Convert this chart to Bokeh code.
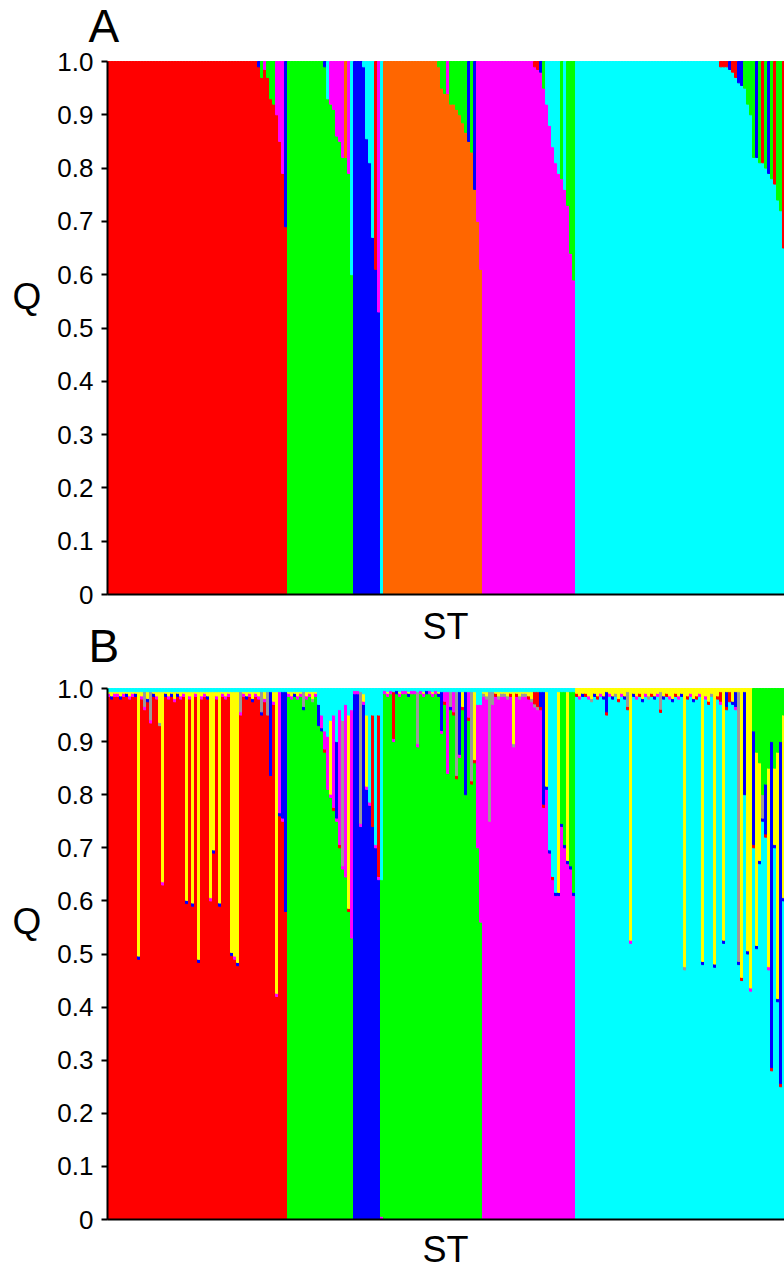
from bokeh.plotting import figure
from bokeh.models import Range1d, FixedTicker, ColumnDataSource, LinearAxis, Label
from bokeh.embed import file_html
from bokeh.resources import INLINE

# ---------------- data ----------------
COLORS = {"r": "#FF0000", "g": "#00FF00", "b": "#0000FF", "o": "#FF6600",
          "m": "#FF00FF", "c": "#00FFFF", "y": "#FFFF00", "a": "#9A9A9A"}

GROUP_SIZES = [60, 22, 10, 33, 31, 70]
Y_TICKS = [0, 0.1, 0.2, 0.3, 0.4, 0.5, 0.6, 0.7, 0.8, 0.9, 1.0]
Y_TICK_LABELS = ["0", "0.1", "0.2", "0.3", "0.4", "0.5", "0.6", "0.7", "0.8", "0.9", "1.0"]
X_LABEL = "ST"
Y_LABEL = "Q"
PANEL_LABELS = ["A", "B"]

# ---- Panel A : main-cluster membership per sample, remainder to a second cluster
A_MAIN = "rgbomc"
A_RED_Q = [1.0] * 50 + [0.99, 0.97, 0.985, 0.97, 0.93, 0.92, 0.90, 0.85, 0.79, 0.69]
A_RED_SEC = "g" * 50 + "bgmgggmmmb"
A_GREEN_Q = [1.0] * 12 + [0.99, 0.93, 0.92, 0.91, 0.86, 0.85, 0.82, 0.82, 0.79, 0.60]
A_GREEN_SEC = "m" * 12 + "bcmmmmmomc"
A_BLUE_Q = [1.0, 1.0, 1.0, 0.99, 0.855, 0.81, 0.67, 0.61, 0.53, 0.0]
A_BLUE_SEC = "mmmccccrmc"
A_ORANGE_Q = [1.0] * 18 + [0.99, 0.95, 0.94, 0.94, 0.92, 0.92, 0.91, 0.90, 0.885, 0.867,
                           0.85, 0.83, 0.76, 0.70, 0.61]
A_ORANGE_SEC = "g" * 18 + "gggmggggggbgbmm"
A_MAGENTA_Q = [1.0] * 17 + [0.99, 0.985, 0.98, 0.95, 0.92, 0.88, 0.84, 0.81, 0.79, 0.78,
                            0.76, 0.73, 0.64, 0.59]
A_MAGENTA_SEC = "c" * 17 + "rrbgcccccgcggg"
A_CYAN_Q = [1.0] * 48 + [0.99, 0.99, 0.99, 0.985, 0.98, 0.97, 0.96, 0.955, 0.95, 0.92,
                         0.90, 0.82, 0.82, 0.81, 0.81, 0.80, 0.79, 0.78, 0.77, 0.74,
                         0.72, 0.65]
A_CYAN_SEC = "g" * 48 + "rrrbrrbbggggbgrgbgrggr"

# ---- Panel B : main, thin tip layer, second cluster, thin top layer
B_MAIN = "rgbgmc"
B_TIP_Q = 0.006
B_TOP_Q = 0.006

B_RED_Q = [0.985, 0.98, 0.985, 0.985, 0.98, 0.985, 0.985, 0.98, 0.985, 0.985,
           0.49, 0.98, 0.96, 0.975, 0.935, 0.985, 0.98, 0.93, 0.63, 0.985,
           0.98, 0.985, 0.975, 0.985, 0.98, 0.985, 0.595, 0.98, 0.59, 0.985,
           0.484, 0.98, 0.985, 0.98, 0.60, 0.69, 0.98, 0.59, 0.985, 0.98,
           0.985, 0.497, 0.49, 0.478, 0.95, 0.985, 0.98, 0.985, 0.975, 0.985,
           0.98, 0.95, 0.975, 0.95, 0.836, 0.97, 0.42, 0.76, 0.75, 0.58]
B_RED_SEC = "yyyyyyyyyy" "yyayayyyyy" "yyyyyyyyyy" "yyyyyyyyyy" "yyyyayyyyy" "yayabyymbb"
B_RED_TIP = "mbmmbmbmmb" "bmmbmbmamb" "mbmbmmbmbm" "bmmbmbmbmm" "mbmbmmbmbm" "mbmabmmbmb"
B_RED_TOPQ = [B_TOP_Q] * 60
B_RED_TOPC = "c" * 60

B_GREEN_Q = [0.985, 0.98, 0.985, 0.98, 0.985, 0.96, 0.98, 0.985, 0.975, 0.985,
             0.93, 0.92, 0.88, 0.81, 0.795, 0.77, 0.75, 0.70, 0.66, 0.645, 0.58, 0.53]
B_GREEN_SEC = "yyyyyayyyybmmmymbmamym"
B_GREEN_TIP = "mmbmmbmmam" "bbrmmrmrmmrm"
B_GREEN_TOPQ = [B_TOP_Q] * 10 + [0.03, 0.05, 0.08, 0.09, 0.06, 0.05, 0.10, 0.04, 0.06, 0.03, 0.05, 0.04]
B_GREEN_TOPC = "c" * 22

B_BLUE_Q = [0.99, 0.99, 0.74, 0.97, 0.81, 0.78, 0.74, 0.70, 0.64, 0.0]
B_BLUE_SEC = "mmayycrcrg"
B_BLUE_TIP = "mmmmmmrmmm"
B_BLUE_TOPQ = [0.006, 0.006, 0.006, 0.01, 0.05, 0.10, 0.05, 0.10, 0.05, 0.36]
B_BLUE_TOPC = "c" * 10

B_GREEN2_Q = [0.99, 0.985, 0.99, 0.90, 0.99, 0.985, 0.99, 0.99, 0.985, 0.99,
              0.99, 0.89, 0.99, 0.985, 0.99, 0.99, 0.985, 0.99, 0.985, 0.915,
              0.97, 0.84, 0.96, 0.95, 0.83, 0.87, 0.96, 0.80, 0.94, 0.82,
              0.86, 0.70, 0.56]
B_GREEN2_SEC = "yyyryyyyyy" "yayyyyyyyb" "mmamabybma" "ymm"
B_GREEN2_TIP = "mmmmbmmmbm" "mmmmbmmmbm" "rmbrrmrbrr" "rmm"
B_GREEN2_TOPQ = [B_TOP_Q] * 31 + [0.03, 0.03]
B_GREEN2_TOPC = "c" * 33

B_MAGENTA_Q = [0.985, 0.98, 0.75, 0.97, 0.985, 0.98, 0.985, 0.985, 0.98, 0.985,
               0.89, 0.985, 0.98, 0.985, 0.985, 0.98, 0.975, 0.965, 0.96, 0.96,
               0.776, 0.81, 0.69, 0.64, 0.61, 0.61, 0.74, 0.70, 0.67, 0.66, 0.61]
B_MAGENTA_SEC = "yyaayyyyyy" "yyyyyyyrrb" "bycccyggygg"
B_MAGENTA_TIP = "aaaaraaaar" "araaaraaar" "rbbrbbbbbbb"
B_MAGENTA_TOPQ = [B_TOP_Q] * 31
B_MAGENTA_TOPC = "c" * 31

B_CYAN_Q = [0.985, 0.98, 0.985, 0.985, 0.98, 0.975, 0.985, 0.98, 0.985, 0.98,
            0.95, 0.985, 0.98, 0.985, 0.975, 0.985, 0.98, 0.96, 0.52, 0.985,
            0.98, 0.985, 0.975, 0.985, 0.98, 0.985, 0.98, 0.985, 0.955, 0.98,
            0.985, 0.98, 0.975, 0.985, 0.98, 0.985, 0.47, 0.98, 0.985, 0.975,
            0.98, 0.985, 0.48, 0.98, 0.97, 0.985, 0.475, 0.98, 0.97, 0.52,
            0.96, 0.975, 0.97, 0.96, 0.48, 0.45, 0.80, 0.50, 0.43, 0.70,
            0.51, 0.67, 0.75, 0.72, 0.47, 0.28, 0.70, 0.41, 0.25, 0.60]
B_CYAN_SEC = "yyyyyyyyyy" "byyyyyyayy" "yyyyyyyyay" "yyyyyyyyyy" "yyyyyyyyry" "brybaybyyb" "yyabybyyby"
B_CYAN_TIP = "rmbrmabrmb" "rmbarmbrmb" "mrbmarbmrb" "rmbrmbarmb" "rmbmrabrmb" "rrbmbrbbmr" "bbbrmrbbrb"
B_CYAN_TOPQ = [B_TOP_Q] * 59 + [0.08, 0.12, 0.14, 0.20, 0.18, 0.15, 0.10, 0.15, 0.12, 0.10, 0.05]
B_CYAN_TOPC = "y" * 59 + "g" * 11

A_GROUPS = [(A_MAIN[0], A_RED_Q, A_RED_SEC), (A_MAIN[1], A_GREEN_Q, A_GREEN_SEC),
            (A_MAIN[2], A_BLUE_Q, A_BLUE_SEC), (A_MAIN[3], A_ORANGE_Q, A_ORANGE_SEC),
            (A_MAIN[4], A_MAGENTA_Q, A_MAGENTA_SEC), (A_MAIN[5], A_CYAN_Q, A_CYAN_SEC)]
B_GROUPS = [(B_MAIN[0], B_RED_Q, B_RED_SEC, B_RED_TIP, B_RED_TOPQ, B_RED_TOPC),
            (B_MAIN[1], B_GREEN_Q, B_GREEN_SEC, B_GREEN_TIP, B_GREEN_TOPQ, B_GREEN_TOPC),
            (B_MAIN[2], B_BLUE_Q, B_BLUE_SEC, B_BLUE_TIP, B_BLUE_TOPQ, B_BLUE_TOPC),
            (B_MAIN[3], B_GREEN2_Q, B_GREEN2_SEC, B_GREEN2_TIP, B_GREEN2_TOPQ, B_GREEN2_TOPC),
            (B_MAIN[4], B_MAGENTA_Q, B_MAGENTA_SEC, B_MAGENTA_TIP, B_MAGENTA_TOPQ, B_MAGENTA_TOPC),
            (B_MAIN[5], B_CYAN_Q, B_CYAN_SEC, B_CYAN_TIP, B_CYAN_TOPQ, B_CYAN_TOPC)]
N_SAMPLES = sum(GROUP_SIZES)


# ---------------- build stacked segments ----------------
def add_bar(rows, i, layers):
    b = 0.0
    for c, f in layers:
        if f > 1e-6:
            rows["left"].append(i)
            rows["right"].append(i + 1)
            rows["bottom"].append(b)
            rows["top"].append(min(1.0, b + f))
            rows["color"].append(COLORS[c])
            b += f


def build_A():
    rows = dict(left=[], right=[], bottom=[], top=[], color=[])
    i = 0
    for (main, qs, sec), n in zip(A_GROUPS, GROUP_SIZES):
        assert len(qs) == n and len(sec) == n, (main, len(qs), len(sec), n)
        for k, q in enumerate(qs):
            add_bar(rows, i, [(main, q), (sec[k], 1.0 - q)])
            i += 1
    return rows


def build_B():
    rows = dict(left=[], right=[], bottom=[], top=[], color=[])
    i = 0
    for (main, qs, sec, tip, topq, topc), n in zip(B_GROUPS, GROUP_SIZES):
        assert len(qs) == n and len(sec) == n and len(tip) == n and len(topq) == n and len(topc) == n, \
            (main, len(qs), len(sec), len(tip), len(topq), len(topc), n)
        for k, q in enumerate(qs):
            rest = 1.0 - q
            t = min(B_TIP_Q, rest)
            rest -= t
            tq = min(topq[k], rest)
            rest -= tq
            add_bar(rows, i, [(main, q), (tip[k], t), (sec[k], rest), (topc[k], tq)])
            i += 1
    return rows


# ---------------- layout (page pixels) ----------------
W, H = 784, 1272
FONT = "Liberation Sans"
X0_PX, PX_PER_SAMPLE = 107, 3
PANELS = {  # name: (page y of Q=1, page y of Q=0, letter anchor y, "Q" anchor y, "ST" anchor y)
    "A": (61, 594, 25, 296, 626),
    "B": (688, 1219, 645, 921, 1249),
}


def y_range_for(top_px, zero_px):
    unit = zero_px - top_px
    return Range1d(-(H - zero_px) / unit, zero_px / unit)


p = figure(width=W, height=H,
           x_range=Range1d(-X0_PX / PX_PER_SAMPLE, (W - X0_PX) / PX_PER_SAMPLE),
           y_range=y_range_for(*PANELS["B"][:2]),
           output_backend="svg", toolbar_location=None,
           x_axis_location=None, y_axis_location=None,
           min_border=0, min_border_left=0, min_border_right=0,
           min_border_top=0, min_border_bottom=0)
p.extra_y_ranges = {"A": y_range_for(*PANELS["A"][:2])}
p.title.text = ""
p.outline_line_color = None
p.background_fill_color = "white"
p.border_fill_color = "white"
p.grid.visible = False

for name, rows in (("A", build_A()), ("B", build_B())):
    rng = "A" if name == "A" else "default"
    src = ColumnDataSource(rows)
    p.quad(left="left", right="right", bottom="bottom", top="top",
           fill_color="color", line_color="color", line_width=1,
           source=src, y_range_name=rng)

    ya = LinearAxis(y_range_name=rng, fixed_location=0, bounds=(0, 1),
                    ticker=FixedTicker(ticks=Y_TICKS),
                    major_label_overrides=dict(zip(Y_TICKS, Y_TICK_LABELS)))
    ya.major_label_text_font = FONT
    ya.major_label_text_font_size = "26px"
    ya.major_label_text_color = "black"
    ya.major_label_standoff = 8
    ya.major_tick_out = 6
    ya.major_tick_in = 0
    ya.major_tick_line_width = 2
    ya.minor_tick_line_color = None
    ya.axis_line_width = 2
    ya.axis_line_color = "black"
    p.add_layout(ya, "left")

    xa = LinearAxis(y_range_name=rng, fixed_location=0, bounds=(0, N_SAMPLES),
                    ticker=FixedTicker(ticks=[]))
    xa.major_label_text_font_size = "0px"
    xa.major_tick_line_color = None
    xa.minor_tick_line_color = None
    xa.axis_line_width = 2
    xa.axis_line_color = "black"
    p.add_layout(xa, "below")

    top_px, zero_px, letter_y, q_y, st_y = PANELS[name]
    p.add_layout(Label(x=88, y=H - letter_y, x_units="screen", y_units="screen",
                       text=name, text_font=FONT, text_font_size="46px",
                       text_baseline="alphabetic", text_align="left", text_color="black"))
    p.add_layout(Label(x=12, y=H - q_y, x_units="screen", y_units="screen",
                       text=Y_LABEL, text_font=FONT, text_font_size="37px",
                       text_baseline="alphabetic", text_align="left", text_color="black"))
    p.add_layout(Label(x=445, y=H - st_y, x_units="screen", y_units="screen",
                       text=X_LABEL, text_font=FONT, text_font_size="36px",
                       text_baseline="alphabetic", text_align="center", text_color="black"))

open("out.html", "w").write(file_html(p, INLINE))
